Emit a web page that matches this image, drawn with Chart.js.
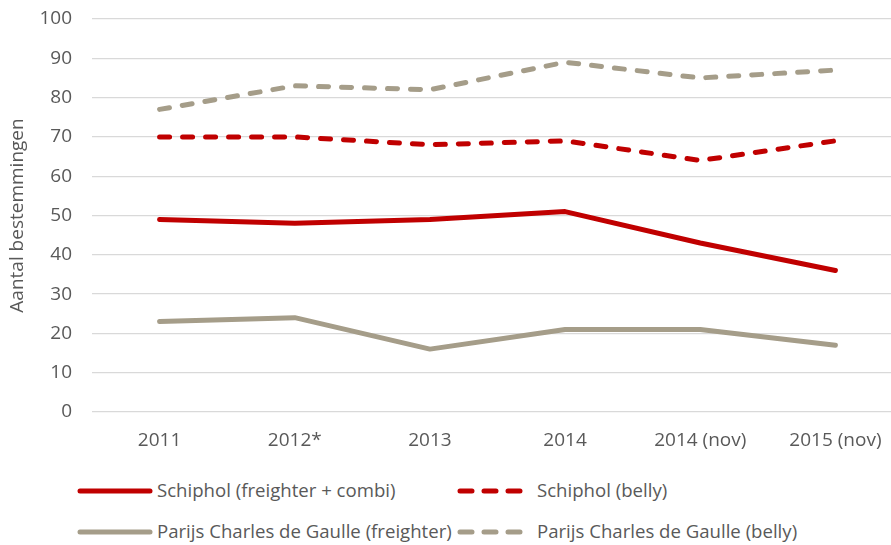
<!DOCTYPE html>
<html>
<head>
<meta charset="utf-8">
<script src="https://cdn.jsdelivr.net/npm/chart.js@4"></script>
<style>
  html, body { margin: 0; padding: 0; background: #fff; overflow: hidden; width: 891px; height: 545px; }
  #wrap { position: absolute; left: 0; top: 0; width: 903px; height: 470px; }
  .leg { position: absolute; font-family: "Open Sans", sans-serif; font-size: 18.6px; color: #595959; white-space: nowrap; line-height: 22px; }
  .leg svg { position: absolute; left: 0; top: 0; }
  .leg span { position: absolute; top: -12px; }
</style>
</head>
<body>
<div id="wrap"><canvas id="linechart" width="903" height="470"></canvas></div>
<div id="legend"></div>
<script>
const labels = ['2011', '2012*', '2013', '2014', '2014 (nov)', '2015 (nov)'];
const seriesNames = [
  'Schiphol (freighter + combi)',
  'Schiphol (belly)',
  'Parijs Charles de Gaulle (freighter)',
  'Parijs Charles de Gaulle (belly)'
];
const schipholFreighter = [49, 48, 49, 51, 43, 36];
const schipholBelly = [70, 70, 68, 69, 64, 69];
const cdgFreighter = [23, 24, 16, 21, 21, 17];
const cdgBelly = [77, 83, 82, 89, 85, 87];

const red = '#C00000';
const tan = '#A59D89';
const textColor = '#595959';
const font = { family: '"Open Sans", sans-serif', size: 19 };

const ctx = document.getElementById('linechart');
const linechart = new Chart(ctx, {
  type: 'line',
  data: {
    labels: labels,
    datasets: [
      { label: seriesNames[0], data: schipholFreighter, borderColor: red, borderWidth: 5, pointRadius: 0, borderCapStyle: 'round', borderJoinStyle: 'round' },
      { label: seriesNames[1], data: schipholBelly, borderColor: red, borderWidth: 5, pointRadius: 0, borderDash: [10, 13], borderCapStyle: 'round', borderJoinStyle: 'round' },
      { label: seriesNames[2], data: cdgFreighter, borderColor: tan, borderWidth: 5, pointRadius: 0, borderCapStyle: 'round', borderJoinStyle: 'round' },
      { label: seriesNames[3], data: cdgBelly, borderColor: tan, borderWidth: 5, pointRadius: 0, borderDash: [10, 13], borderCapStyle: 'round', borderJoinStyle: 'round' }
    ]
  },
  options: {
    responsive: false,
    animation: false,
    layout: { padding: { top: 19, right: 0, bottom: 0, left: 0 } },
    plugins: { legend: { display: false }, tooltip: { enabled: false } },
    scales: {
      x: {
        offset: true,
        grid: { display: false, drawTicks: false },
        border: { display: false },
        ticks: { color: textColor, font: font, padding: 17, maxRotation: 0 },
        afterFit: (s) => { s.height = 470 - 412; }
      },
      y: {
        min: 0,
        max: 100,
        grid: { color: '#D9D9D9', lineWidth: 1.3, drawTicks: false },
        border: { display: false },
        ticks: { stepSize: 10, color: textColor, font: font, padding: 20 },
        title: { display: true, text: 'Aantal bestemmingen', color: textColor, font: font, padding: { top: 6, bottom: 0 } },
        afterFit: (s) => { s.width = 92; s.paddingTop = 0; s.paddingBottom = 0; }
      }
    }
  }
});

// legend in two rows, two columns
const legendItems = [
  { x: 80, y: 491, color: red, dash: false, text: seriesNames[0] },
  { x: 460, y: 491, color: red, dash: true, text: seriesNames[1] },
  { x: 80, y: 532, color: tan, dash: false, text: seriesNames[2] },
  { x: 460, y: 532, color: tan, dash: true, text: seriesNames[3] }
];
const legend = document.getElementById('legend');
legendItems.forEach(it => {
  const d = document.createElement('div');
  d.className = 'leg';
  d.style.left = it.x + 'px';
  d.style.top = it.y + 'px';
  const w = it.dash ? 66 : 70;
  const dash = it.dash ? 'stroke-dasharray="12 12"' : '';
  d.innerHTML = '<svg width="' + (w + 6) + '" height="10" style="top:-5px;left:-3px">' +
    '<line x1="3" y1="5" x2="' + (w + 3) + '" y2="5" stroke="' + it.color + '" stroke-width="5" stroke-linecap="round" ' + dash + '/></svg>' +
    '<span style="left:77px">' + it.text + '</span>';
  legend.appendChild(d);
});
</script>
</body>
</html>
